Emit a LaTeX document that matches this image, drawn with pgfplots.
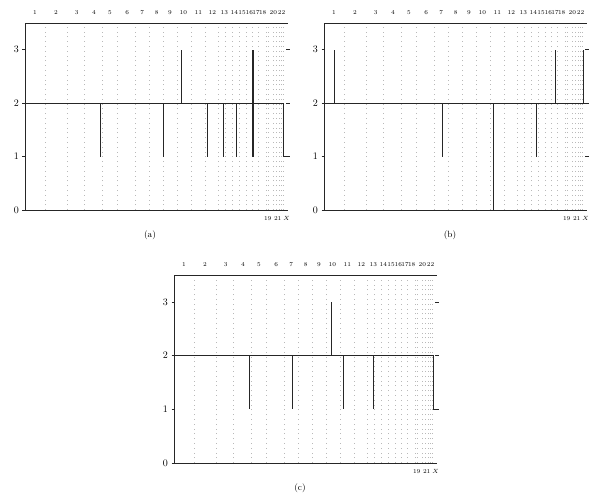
\documentclass[border=0pt]{standalone}
\usepackage{pgfplots}
\pgfplotsset{compat=1.18}

% common look of the three panels (x in px from the left edge of the box)
\pgfplotsset{
  panel/.style={
    scale only axis, width=263pt, height=187pt,
    xmin=0, xmax=263, ymin=0, ymax=3.5,
    axis x line*=box, axis y line*=left,
    axis line style={black!85, line width=0.6pt},
    ytick={0,1,2,3},
    yticklabel style={font=\fontsize{10}{12}\selectfont},
    y tick style={black!85, line width=0.5pt},
    tick align=outside, major tick length=2.5pt,
    xtick={20,42,59.5,77,92.5,110,124.3,138.3,152,166,180.5,193,200.3,207.7,214.3,221.7,227.7,233.7,241,243.3,248.3,251,254.3,256.3,258.3},
    xticklabels={},
    x tick style={draw=none},
    xmajorgrids,
    x grid style={gray!55, line width=0.45pt, dash pattern=on 0.8pt off 4pt},
    xticklabel pos=right,
    extra x ticks={10,31,51.7,69,85,102.3,117.3,131.7,145,158.3,173.3,187.3,199.3,209.3,217,224.3,231,237.7,248.3,256.6},
    extra x tick labels={1,2,3,4,5,6,7,8,9,10,11,12,13,14,15,16,17,18,20,22},
    extra x tick style={grid=none, tick label style={font=\fontsize{6}{7}\selectfont, yshift=2.5pt}},
    clip=false,
  },
  dataline/.style={black!85, line width=0.75pt, no marks, unbounded coords=jump},
}

\newcommand{\panelextras}{%
  \pgfplotsinvokeforeach{1,2,3}{\draw[black!85, line width=0.5pt] ([xshift=-2pt]axis cs:263,##1) -- ([xshift=2pt]axis cs:263,##1);}
  \node[font=\fontsize{6}{7}\selectfont, anchor=north, yshift=-3pt] at (axis cs:242.7,0) {19};
  \node[font=\fontsize{6}{7}\selectfont, anchor=north, yshift=-3pt] at (axis cs:252.7,0) {21};
  \node[font=\fontsize{6}{7}\selectfont, anchor=north, yshift=-3pt] at (axis cs:261.7,0) {$X$};
}

\begin{document}
\begin{tikzpicture}
\path[use as bounding box] (0,0) rectangle (605pt,499pt);

% (a)
\begin{axis}[panel, at={(25pt,289pt)}, anchor=south west]
  \addplot[dataline] coordinates {(0,2) (258.3,2) (258.3,1) (263,1)};
  \addplot[dataline] coordinates {
    (75,2) (75,1) (75,nan)
    (138.3,2) (138.3,1) (138.3,nan)
    (156,2) (156,3) (156,nan)
    (182.3,2) (182.3,1) (182.3,nan)
    (198.3,2) (198.3,1) (198.3,nan)
    (211.7,2) (211.7,1) (211.7,nan)
    (226.9,1) (226.9,3) (226.9,nan)
    (227.9,1) (227.9,3)
  };
  \panelextras
\end{axis}

% (b)
\begin{axis}[panel, at={(324pt,289pt)}, anchor=south west]
  \addplot[dataline] coordinates {(0,2) (263,2)};
  \addplot[dataline] coordinates {
    (10.3,2) (10.3,3) (10.3,nan)
    (118.7,2) (118.7,1) (118.7,nan)
    (169.3,2) (169.3,0) (169.3,nan)
    (212.7,2) (212.7,1) (212.7,nan)
    (231,2) (231,3) (231,nan)
    (259.3,2) (259.3,3)
  };
  \panelextras
\end{axis}

% (c)
\begin{axis}[panel, at={(174pt,36pt)}, anchor=south west, height=188pt]
  \addplot[dataline] coordinates {(0,2) (259,2) (259,1) (263,1)};
  \addplot[dataline] coordinates {
    (75.7,2) (75.7,1) (75.7,nan)
    (118,2) (118,1) (118,nan)
    (157.4,2) (157.4,3) (157.4,nan)
    (169,2) (169,1) (169,nan)
    (199,2) (199,1)
  };
  \panelextras
\end{axis}

\node[font=\fontsize{9}{11}\selectfont] at (150pt,264pt) {(a)};
\node[font=\fontsize{9}{11}\selectfont] at (450pt,264pt) {(b)};
\node[font=\fontsize{9}{11}\selectfont] at (300pt,11pt) {(c)};
\end{tikzpicture}
\end{document}
